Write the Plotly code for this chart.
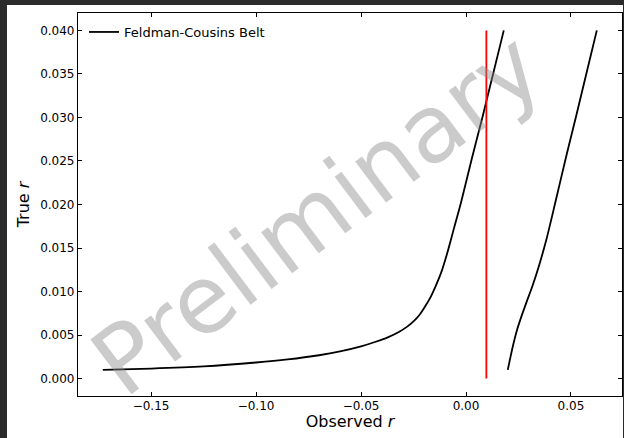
import plotly.graph_objects as go

# Left boundary of the Feldman-Cousins belt (observed r, true r)
left_x = [-0.173, -0.150, -0.125, -0.100, -0.085, -0.070, -0.060, -0.050, -0.043,
          -0.037, -0.032, -0.028, -0.025, -0.022, -0.0195, -0.017, -0.0145, -0.0118,
          -0.0092, -0.0058, -0.0024, 0.0027, 0.0078, 0.0129, 0.0180]
left_y = [0.00100, 0.00115, 0.00140, 0.00185, 0.00220, 0.00268, 0.00312, 0.00370, 0.00423,
          0.00476, 0.00535, 0.00597, 0.00657, 0.00737, 0.00828, 0.00930, 0.01060, 0.01220,
          0.01420, 0.01720, 0.02020, 0.02520, 0.03000, 0.03500, 0.04000]

# Right boundary of the belt
right_x = [0.0199, 0.0212, 0.0226, 0.0242, 0.0262, 0.0287, 0.0316, 0.0348, 0.0381,
           0.0429, 0.0476, 0.0525, 0.0574, 0.0623]
right_y = [0.0010, 0.0025, 0.0040, 0.0055, 0.0070, 0.0087, 0.0106, 0.0130, 0.0158,
           0.0206, 0.0254, 0.0302, 0.0351, 0.0400]

# Measured value (vertical red line)
meas_x = [0.0097, 0.0097]
meas_y = [0.0, 0.040]

x_ticks = [-0.15, -0.10, -0.05, 0.00, 0.05]
y_ticks = [0.000, 0.005, 0.010, 0.015, 0.020, 0.025, 0.030, 0.035, 0.040]

FONT = "DejaVu Sans"

fig = go.Figure()
fig.add_trace(go.Scatter(x=left_x, y=left_y, mode="lines", name="Feldman-Cousins Belt",
                         line=dict(color="black", width=1.8, shape="spline", smoothing=0.8),
                         legendgroup="fc"))
fig.add_trace(go.Scatter(x=right_x, y=right_y, mode="lines", showlegend=False,
                         line=dict(color="black", width=1.8, shape="spline", smoothing=0.8),
                         legendgroup="fc"))
fig.add_trace(go.Scatter(x=meas_x, y=meas_y, mode="lines", showlegend=False,
                         line=dict(color="red", width=1.8)))

axis_common = dict(showline=True, linecolor="black", linewidth=1.2, mirror="ticks",
                   ticks="inside", ticklen=4, tickwidth=1, tickcolor="black",
                   showgrid=False, zeroline=False,
                   tickfont=dict(family=FONT, size=12, color="black"))

fig.update_xaxes(range=[-0.1848, 0.0743], tickvals=x_ticks, tickformat=".2f",
                 ticklabelstandoff=-2,
                 title=dict(text="Observed <i>r</i>", font=dict(family=FONT, size=16, color="black"),
                            standoff=4),
                 **axis_common)
fig.update_yaxes(range=[-0.002, 0.042], tickvals=y_ticks, tickformat=".3f",
                 title=dict(text="True <i>r</i>", font=dict(family=FONT, size=16, color="black"),
                            standoff=6),
                 **axis_common)

W, H = 624, 438
ml, mr, mt, mb = 78, 2, 13, 42
pw, ph = W - ml - mr, H - mt - mb

def px2x(px):
    return (px - ml) / pw

def py2y(py):
    return (H - mb - py) / ph

dark = "#2b2b2b"
shapes = [
    dict(type="rect", xref="paper", yref="paper", x0=px2x(0), x1=px2x(W), y0=py2y(5), y1=py2y(0),
         fillcolor=dark, line=dict(width=0), layer="above"),
    dict(type="rect", xref="paper", yref="paper", x0=px2x(0), x1=px2x(7), y0=py2y(H), y1=py2y(0),
         fillcolor=dark, line=dict(width=0), layer="above"),
    dict(type="rect", xref="paper", yref="paper", x0=px2x(623), x1=px2x(W), y0=py2y(H), y1=py2y(0),
         fillcolor=dark, line=dict(width=0), layer="above"),
]

fig.update_layout(
    width=W, height=H,
    margin=dict(l=ml, r=mr, t=mt, b=mb),
    paper_bgcolor="white", plot_bgcolor="white",
    font=dict(family=FONT, size=12, color="black"),
    shapes=shapes,
    legend=dict(x=px2x(84), y=py2y(17), xanchor="left", yanchor="top",
                bgcolor="rgba(0,0,0,0)", borderwidth=0,
                font=dict(family=FONT, size=13, color="black")),
    annotations=[dict(text="Preliminary", xref="paper", yref="paper",
                      x=px2x(316), y=py2y(214), showarrow=False, textangle=-37,
                      font=dict(family=FONT, size=94, color="rgba(140,140,140,0.45)"))],
)

fig.write_html("out.html")
